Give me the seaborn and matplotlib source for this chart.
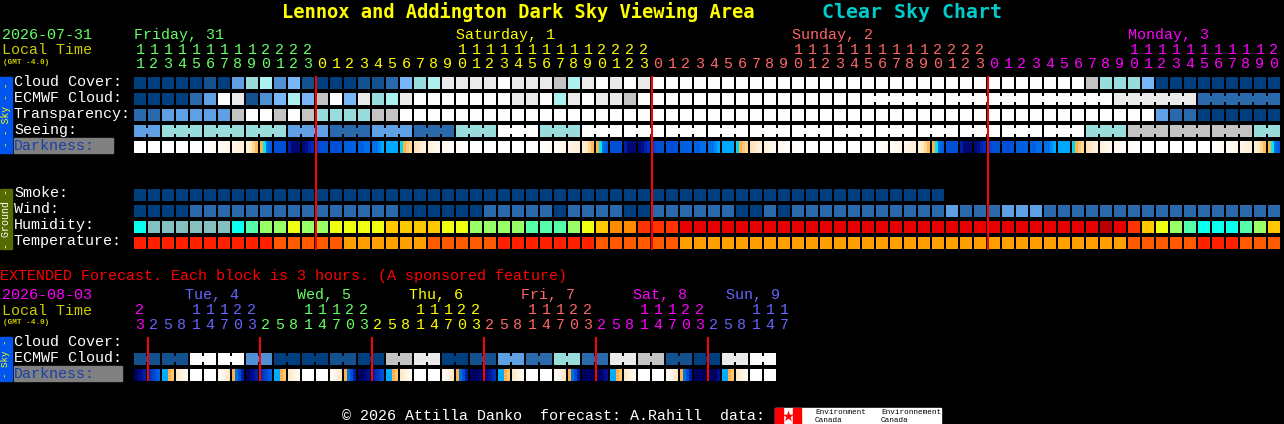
import numpy as np
import seaborn as sns
import matplotlib.pyplot as plt
from matplotlib.colors import ListedColormap, LinearSegmentedColormap
from matplotlib.patches import Rectangle

W, H = 1284, 424

# colour scales
cloud_colors = ['#003F7F', '#13528F', '#2A69AB', '#4F8FD3', '#5F9FE3', '#78B6F8',
                '#98DCDC', '#ADF0F0', '#C3C3C3', '#EAEAEA', '#FDFDFD']
humidity_colors = ['#84C0C0', '#0AFFEE', '#55FFAA', '#99FF66', '#EEFF11',
                   '#FFC800', '#FF8C00', '#FF3300', '#E60000', '#B80000']
temp_colors = ['#FFA000', '#FF5A00', '#FF2000']
dark_colors = ['#FFFFFF', '#FFF0DC', '#FFDFB0', '#FFB040', '#00E8F0', '#00AAFF',
               '#0070E8', '#0050D8', '#0030B8', '#000E90', '#000060']

# main block, one value per hour starting at 11:00
cloud = [0, 0, 0, 0, 0, 1, 0, 4, 6, 7, 3, 5, 1, 0, 0, 0, 1, 1, 2, 5, 6,
         7, 9, 9, 9, 9, 10, 9, 9, 9, 8, 7, 9, 10, 9, 10, 9] + [10] * 31 + [8, 6, 6, 6, 5] + [0] * 9
ecmwf = [0, 0, 0, 0, 2, 4, 10, 9, 1, 3, 5, 7, 5, 8, 10, 5, 9, 6, 7, 9, 10,
         10, 10, 10, 10, 10, 10, 9, 9, 10, 7, 9, 10, 9, 9, 8, 10] + [10] * 33 + [9] * 6 + [2] * 6
transparency = [2, 2, 4, 4, 4, 4, 4, 8, 10, 10, 8, 10, 8, 6, 6, 6, 6, 8, 8, 10, 10] \
    + [10] * 52 + [4, 2, 2] + [0] * 6
seeing = [4, 4, 6, 6, 6, 6, 6, 6, 6, 6, 6, 4, 4, 4, 2, 2, 2, 4, 4, 4, 2, 2, 2,
          6, 6, 6, 10, 10, 10, 6, 6, 6] + [10] * 36 + [6, 6, 6, 8, 8, 8, 8, 8, 8, 8, 8, 8, 6, 6]
smoke = [0] * 58 + [np.nan] * 24
wind = [0, 0, 0, 0] + [2] * 15 + [0] * 6 + [2] * 5 + [0] + [2] * 4 + [0, 0] + [2] * 6 \
    + [0, 0, 2, 0] + [2] * 11 + [4] + [2] * 3 + [4, 4, 4] + [2] * 17
humidity = [1, 0, 0, 0, 0, 0, 0, 1, 2, 3, 3, 4, 3, 3, 4, 4, 4, 4, 5, 5, 5, 5,
            4, 4, 3, 3, 3, 3, 2, 2, 2, 3, 4, 5, 6, 6, 7, 7, 7] + [8] * 30 \
    + [9, 8, 7, 5, 4, 3, 2, 1, 1, 1, 2, 3, 5]
temperature = [2] * 10 + [1] * 5 + [0] * 6 + [1] * 5 + [2] * 7 + [1] * 6 + [0] * 32 \
    + [1] * 5 + [2] * 3 + [1] * 3

# blocks of hours that are joined together, as (row, first hour, hours)
seeing_sizes = [2] + [3] * 26 + [2]
seeing_starts = np.cumsum([0] + seeing_sizes[:-1])
sky_joins = [(3, s, n) for s, n in zip(seeing_starts, seeing_sizes)]
sky_joins += [(1, s, 6) for s in (52, 58, 64, 70, 76)]

# darkness, four readings across each hour, one day from 11:00
dark_day = [
    [0, 0, 0, 0], [0, 0, 0, 0], [0, 0, 0, 0], [0, 0, 0, 0], [0, 0, 0, 0],
    [.1, .1, .2, .2], [.3, .4, .5, .6], [.7, .8, 1, 1.1], [1.2, 1.5, 2.2, 2.8],
    [3, 4, 6, 6.5], [7, 7, 7, 7], [8.5, 9.5, 9.5, 9.5], [9.5, 9, 8.5, 8],
    [7.5, 7, 7, 7], [7, 7, 7, 7], [6.5, 6.5, 6.5, 6.5], [6.5, 6.5, 6, 6],
    [6, 6, 5.5, 5], [5, 5, 5, 5], [4.3, 3, 2.5, 2.2], [1.8, 1.5, 1.2, 1],
    [1, .8, .6, .5], [.5, .4, .3, .2], [.2, .1, .1, 0]]
darkness = dark_day * 3 + dark_day[:10]

# extended block, one value per 3 hours starting at 23:00
ext_ecmwf = [1, 1, 1, 1, 10, 10, 10, 10, 3, 3, 0, 0, 0, 0, 1, 1, 0, 0, 8, 8, 9, 9, 0, 0,
             1, 1, 4, 4, 2, 2, 6, 6, 2, 2, 9, 9, 8, 8, 1, 1, 0, 0, 9, 9, 10, 10]
ext_nights = [
    [[10, 9.5, 9, 8.5], [8, 7.5, 7, 6.5]],
    [[10, 9.5, 9, 8.5], [8, 7.5, 7, 6.5]],
    [[10, 10, 9.5, 9], [8.5, 8, 7.5, 7]],
    [[10, 10, 10, 9.5], [9.5, 9, 8.5, 8]],
    [[10, 10, 10, 10], [10, 10, 9.5, 9]],
    [[10, 10, 10, 10], [10, 10, 10, 9]]]
ext_day = [[5, 5, 3, 2.5], [1.5, 1, .6, .3], [0, 0, 0, 0], [0, 0, 0, 0],
           [.3, .6, 1, 1.5], [3, 6, 7, 8.5]]

# text
main_rows = ['Cloud Cover:', 'ECMWF Cloud:', 'Transparency:', 'Seeing:']
ground_rows = ['Smoke:', 'Wind:', 'Humidity:', 'Temperature:']
main_hours = [11 + i for i in range(13)] + list(range(24)) * 2 + list(range(21))
main_days = [('Friday, 31', 134, 0), ('Saturday, 1', 456, 1), ('Sunday, 2', 792, 2), ('Monday, 3', 1128, 3)]
day_splits = [13, 37, 61, 82]
day_colors = ['#66FF66', '#FFFF00', '#FF6666', '#FF00FF']
ext_hours = [23] + [2, 5, 8, 11, 14, 17, 20, 23] * 5 + [2, 5, 8, 11, 14, 17]
ext_days = [('Tue, 4', 185), ('Wed, 5', 297), ('Thu, 6', 409), ('Fri, 7', 521), ('Sat, 8', 633), ('Sun, 9', 726)]
ext_day_colors = ['#6666FF', '#66FF66', '#FFFF00', '#FF6666', '#FF00FF', '#6666FF']

plt.rcParams['font.family'] = ['Liberation Mono', 'DejaVu Sans Mono']
fig = plt.figure(figsize=(W / 100, H / 100), dpi=100, facecolor='black')

cloud_cmap = ListedColormap(cloud_colors)
dark_cmap = LinearSegmentedColormap.from_list('dark', dark_colors)


def heat_rows(rows, x0, y0, cmap, vmax, step=1, joins=()):
    # heatmap on a pixel grid: 12x12 px cells, 14x16 px pitch, NaN gaps stay black
    arr = np.array(rows, dtype=float)
    nrows = arr.shape[0]
    ncols = arr.shape[1] // step
    grid = np.full((nrows * 16, ncols * 14), np.nan)
    for r in range(nrows):
        for c in range(ncols):
            for s in range(step):
                grid[r * 16:r * 16 + 12, c * 14 + s * 12 // step:c * 14 + (s + 1) * 12 // step] = arr[r, c * step + s]
    for r, start, n in joins:
        for c in range(start, start + n - 1):
            grid[r * 16 + 3:r * 16 + 9, c * 14 + 12:c * 14 + 14] = arr[r, c]
    ax = fig.add_axes([x0 / W, 1 - (y0 + nrows * 16) / H, ncols * 14 / W, nrows * 16 / H])
    sns.heatmap(grid, ax=ax, cmap=cmap, vmin=0, vmax=vmax, cbar=False,
                xticklabels=False, yticklabels=False)
    ax.set_facecolor('black')
    return ax


heat_rows([cloud, ecmwf, transparency, seeing], 134, 77, cloud_cmap, 10, joins=sky_joins)
heat_rows([[v for hour in darkness for v in hour]], 134, 141, dark_cmap, 10, step=4)
heat_rows([smoke, wind], 134, 189, cloud_cmap, 10)
heat_rows([humidity], 134, 221, ListedColormap(humidity_colors), 9)
heat_rows([temperature], 134, 237, ListedColormap(temp_colors), 2)

heat_rows([ext_ecmwf], 134, 353, cloud_cmap, 10, joins=[(0, s, 2) for s in range(0, 46, 2)])
ext_dark = []
for night in ext_nights:
    for hour in night + ext_day:
        ext_dark.extend(hour)
heat_rows([ext_dark[:46 * 4]], 134, 369, dark_cmap, 10, step=4)

# everything else goes on a full figure layer in pixel units
top = fig.add_axes([0, 0, 1, 1], zorder=10)
top.set_xlim(0, W)
top.set_ylim(H, 0)
top.axis('off')


def label(x, y, s, color='white', size=10.8, **kw):
    kw.setdefault('ha', 'left')
    top.text(x, y, s, color=color, fontsize=size, va='center', **kw)


label(282, 12, 'Lennox and Addington Dark Sky Viewing Area', '#FFFF00', 13.5,
      fontweight='bold', family='DejaVu Sans Mono')
label(822, 12, 'Clear Sky Chart', '#00CCCC', 14.3, fontweight='bold', family='DejaVu Sans Mono')

label(2, 35, '2026-07-31', '#66FF66')
label(2, 50, 'Local Time', '#CCCC00')
label(3, 62, '(GMT -4.0)', '#CCCC00', 5.6, fontweight='bold')

for text, x, i in main_days:
    label(x, 35, text, day_colors[i])
for i, hour in enumerate(main_hours):
    c = day_colors[np.searchsorted(day_splits, i, side='right')]
    xc = 140 + 14 * i
    if hour >= 10:
        label(xc, 50, str(hour // 10), c, ha='center')
    label(xc, 64, str(hour % 10), c, ha='center')

for i, text in enumerate(main_rows):
    label(14, 82 + 16 * i, text)
top.add_patch(Rectangle((14, 138), 99, 15, color='#808080'))
label(14, 146, 'Darkness:', '#1A3FA8')
for i, text in enumerate(ground_rows):
    label(14, 193 + 16 * i, text)

top.add_patch(Rectangle((0, 77), 12, 76, color='#0055EE'))
label(6, 115, '- - Sky - -', '#FFFF00', 7, rotation=90, ha='center')
top.add_patch(Rectangle((0, 189), 12, 60, color='#556B00'))
label(6, 219, '- Ground -', '#FFFFFF', 7.2, rotation=90, ha='center')

# midnight markers
top.vlines([134 + 14 * c for c in (13, 37, 61)], 76, 250, color='#FF0000', lw=1.44)

label(0, 276, 'EXTENDED Forecast. Each block is 3 hours. (A sponsored feature)', '#FF0000')
label(2, 295, '2026-08-03', '#FF00FF')
label(2, 311, 'Local Time', '#CCCC00')
label(3, 322, '(GMT -4.0)', '#CCCC00', 5.6, fontweight='bold')

for (text, x), c in zip(ext_days, ext_day_colors):
    label(x, 295, text, c)
for i, hour in enumerate(ext_hours):
    c = '#FF00FF' if i == 0 else ext_day_colors[(i - 1) // 8]
    xc = 140 + 14 * i
    if hour >= 10:
        label(xc, 310, str(hour // 10), c, ha='center')
    label(xc, 325, str(hour % 10), c, ha='center')

label(14, 342, 'Cloud Cover:')
label(14, 358, 'ECMWF Cloud:')
top.add_patch(Rectangle((14, 366), 108, 15, color='#808080'))
label(14, 374, 'Darkness:', '#1A3FA8')
top.add_patch(Rectangle((0, 337), 12, 44, color='#0055EE'))
label(6, 359, '- Sky -', '#FFFF00', 6.6, rotation=90, ha='center')
top.vlines([134 + 14 * c for c in (1, 9, 17, 25, 33, 41)], 337, 381, color='#FF0000', lw=1.44)

label(342, 416, '© 2026 Attilla Danko  forecast: A.Rahill  data:')

# data source logo
top.add_patch(Rectangle((775, 408), 166, 16, color='white'))
top.add_patch(Rectangle((775, 408), 8, 16, color='#FF0000'))
top.add_patch(Rectangle((793, 408), 8, 16, color='#FF0000'))
top.scatter([788], [416], marker='*', s=70, color='#FF0000', linewidths=0)
label(815, 412, 'Environment', 'black', 5.5)
label(815, 420, 'Canada', 'black', 5.5)
label(881, 412, 'Environnement', 'black', 5.5)
label(881, 420, 'Canada', 'black', 5.5)

fig.savefig('out.png', dpi=100, facecolor='black')
